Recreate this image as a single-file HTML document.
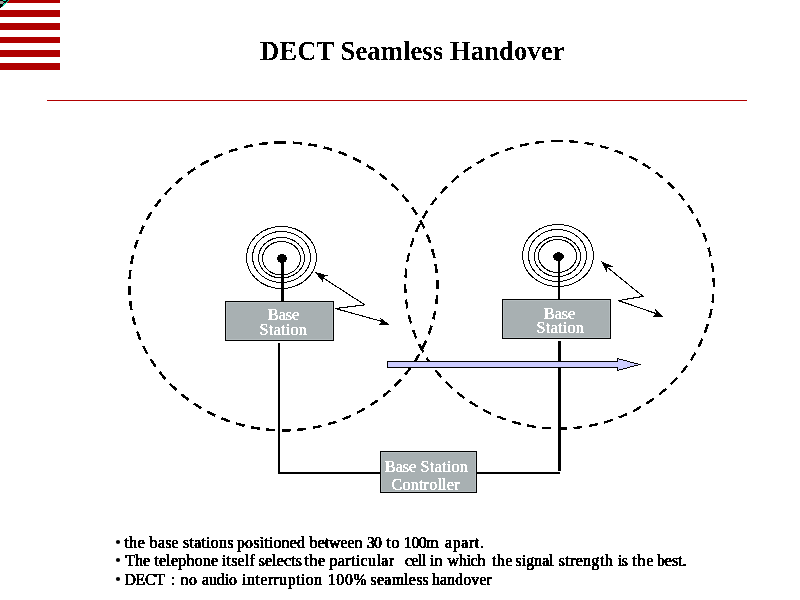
<!DOCTYPE html>
<html>
<head>
<meta charset="utf-8">
<style>
html,body{margin:0;padding:0;background:#fff;}
body{width:800px;height:600px;overflow:hidden;position:relative;font-family:"Liberation Serif",serif;}
svg{position:absolute;left:0;top:0;will-change:transform;}
.ce{shape-rendering:crispEdges;}
</style>
</head>
<body>
<svg width="800" height="600" viewBox="0 0 800 600">
  <defs>
    <filter id="crisp" x="0" y="0" width="100%" height="100%" filterUnits="userSpaceOnUse"><feComponentTransfer><feFuncA type="discrete" tableValues="0 1"/></feComponentTransfer></filter>
  </defs>
  <!-- flag stripes -->
  <g fill="#b00000" shape-rendering="crispEdges">
    <rect x="0" y="0" width="60" height="3"/>
    <rect x="0" y="10" width="60" height="7"/>
    <rect x="0" y="23" width="60" height="7"/>
    <rect x="0" y="37" width="60" height="6"/>
    <rect x="0" y="50" width="60" height="7"/>
    <rect x="0" y="63" width="60" height="7"/>
  </g>
  <!-- corner glyph -->
  <g class="ce">
    <rect x="0" y="0" width="3" height="1" fill="#000"/>
    <rect x="3" y="0" width="3" height="1" fill="#14e6b0"/>
    <rect x="6" y="0" width="2" height="1" fill="#000"/>
    <rect x="8" y="0" width="1" height="1" fill="#14e6b0"/>
    <rect x="0" y="1" width="3" height="1" fill="#9c9c9c"/>
    <rect x="3" y="1" width="4" height="1" fill="#000"/>
    <rect x="7" y="1" width="1" height="1" fill="#14e6b0"/>
    <rect x="0" y="2" width="4" height="1" fill="#9c9c9c"/>
    <rect x="4" y="2" width="2" height="1" fill="#000"/>
    <rect x="6" y="2" width="1" height="1" fill="#14e6b0"/>
    <rect x="0" y="3" width="3" height="1" fill="#9c9c9c"/>
    <rect x="3" y="3" width="1" height="1" fill="#000"/>
    <rect x="4" y="3" width="2" height="1" fill="#14e6b0"/>
    <rect x="0" y="4" width="3" height="1" fill="#000"/>
    <rect x="3" y="4" width="2" height="1" fill="#14e6b0"/>
    <rect x="0" y="5" width="3" height="1" fill="#000"/>
    <rect x="3" y="5" width="1" height="1" fill="#14e6b0"/>
    <rect x="0" y="6" width="2" height="1" fill="#000"/>
    <rect x="2" y="6" width="1" height="1" fill="#14e6b0"/>
    <rect x="0" y="7" width="1" height="1" fill="#000"/>
  </g>

  <!-- title -->
  <text x="260" y="60" font-family="Liberation Serif" font-weight="bold" font-size="26.67" fill="#000" textLength="304.4" lengthAdjust="spacing" filter="url(#crisp)">DECT Seamless Handover</text>
  <!-- red rule -->
  <rect x="47" y="100" width="700" height="1" fill="#b00000" shape-rendering="crispEdges"/>

  <!-- dashed coverage ellipses -->
  <path id="c1" class="ce" d="M283.4,142.39999999999998 A154,144 0 0 0 283.4,430.4 A154,144 0 0 0 283.4,142.39999999999998" fill="none" stroke="#000" stroke-width="2.5" stroke-dasharray="9 6.55"/>
  <path id="c2" class="ce" d="M559.5,141.0 A154.2,143.8 0 0 0 559.5,428.6 A154.2,143.8 0 0 0 559.5,141.0" fill="none" stroke="#000" stroke-width="2.3" stroke-dasharray="9 6.55"/>

  <!-- left antenna -->
  <g fill="none" stroke="#000" stroke-width="1" class="ce">
    <ellipse cx="281.5" cy="257.5" rx="35" ry="31"/>
    <ellipse cx="281.5" cy="257" rx="29" ry="25.5"/>
    <ellipse cx="281.5" cy="257.75" rx="23" ry="20.25"/>
    <ellipse cx="281.5" cy="258.25" rx="19" ry="16.75"/>
  </g>
  <rect x="281" y="258" width="3" height="43" fill="#000" class="ce"/>
  <ellipse cx="282" cy="258.5" rx="5" ry="4.5" fill="#000" class="ce"/>

  <!-- right antenna -->
  <g fill="none" stroke="#000" stroke-width="1" class="ce">
    <ellipse cx="558" cy="255.5" rx="35.5" ry="31"/>
    <ellipse cx="557.5" cy="255.5" rx="29" ry="26"/>
    <ellipse cx="557.5" cy="256.5" rx="23" ry="20"/>
    <ellipse cx="557.5" cy="256" rx="19" ry="16.5"/>
  </g>
  <rect x="558" y="256" width="2" height="43" fill="#000" class="ce"/>
  <ellipse cx="558.5" cy="256.6" rx="5.5" ry="4.3" fill="#000" class="ce"/>

  <!-- boxes -->
  <rect x="225.5" y="301.5" width="108" height="39" fill="#a8b0b2" stroke="#000" stroke-width="1" class="ce"/>
  <rect x="502.5" y="299.5" width="108" height="39" fill="#a8b0b2" stroke="#000" stroke-width="1" class="ce"/>
  <rect x="380.5" y="451.5" width="96" height="41" fill="#a8b0b2" stroke="#000" stroke-width="1" class="ce"/>
  <g fill="none" stroke="#b6bec0" stroke-width="1" class="ce">
    <rect x="226.5" y="302.5" width="106" height="37"/>
    <rect x="503.5" y="300.5" width="106" height="37"/>
    <rect x="381.5" y="452.5" width="94" height="39"/>
  </g>

  <!-- box texts -->
  <g font-family="Liberation Serif" font-size="16" fill="#fff" stroke="#fff" stroke-width="0.35" filter="url(#crisp)">
    <text x="268" y="320">Base</text>
    <text x="259.5" y="335" textLength="47.3" lengthAdjust="spacing">Station</text>
    <text x="544" y="319">Base</text>
    <text x="536.5" y="333" textLength="47.3" lengthAdjust="spacing">Station</text>
    <text x="385" y="472">Base</text><text x="420.5" y="472" textLength="47.3" lengthAdjust="spacing">Station</text>
    <text x="391.5" y="490" textLength="68" lengthAdjust="spacing">Controller</text>
  </g>

  <!-- wiring -->
  <g fill="#000" shape-rendering="crispEdges">
    <rect x="278" y="343" width="2" height="131"/>
    <rect x="278" y="472" width="102" height="2"/>
    <rect x="477" y="472" width="83" height="2"/>
    <rect x="558" y="341" width="3" height="130"/>
  </g>

  <!-- zigzag arrows -->
  <g stroke="#000" stroke-width="1.1" fill="none" class="ce">
    <polyline points="322.5,277.5 364.8,304.8 335.3,308.5 381.5,321.3"/>
    <polyline points="607.5,267.5 643,296.4 618.5,300.6 656,313.5"/>
  </g>
  <g fill="#000" class="ce">
    <polygon points="315,272 328,275.5 322.5,277.5 322.7,282"/>
    <polygon points="390,325 379.5,317 381.5,321.5 378,325"/>
    <polygon points="601,261 613,266.5 607.5,267.5 606.5,272"/>
    <polygon points="664,317 655.2,309 656,313.5 653,317"/>
  </g>

  <!-- big handover arrow -->
  <polygon class="ce" points="387.5,361.5 617.5,361.5 617.5,358.5 639.5,364.5 617.5,370.5 617.5,367.5 387.5,367.5" fill="#ccccff" stroke="#000" stroke-width="1"/>

  <!-- bullets -->
  <g fill="#000">
    <circle cx="118" cy="542" r="2.1"/>
    <circle cx="118" cy="560" r="2.1"/>
    <circle cx="118" cy="579" r="2.1"/>
  </g>
  <g font-family="Liberation Serif" font-size="15.8" fill="#000" stroke="#000" stroke-width="0.7" filter="url(#crisp)">
    <text x="124.4" y="548" textLength="20.31" lengthAdjust="spacing">the</text>
    <text x="149.75" y="548" textLength="28.78" lengthAdjust="spacing">base</text>
    <text x="183.1" y="548" textLength="50.28" lengthAdjust="spacing">stations</text>
    <text x="236.9" y="548" textLength="68.03" lengthAdjust="spacing">positioned</text>
    <text x="309.75" y="548" textLength="52.64" lengthAdjust="spacing">between</text>
    <text x="366.9" y="548" textLength="15.0" lengthAdjust="spacing">30</text>
    <text x="386.5" y="548" textLength="12.8" lengthAdjust="spacing">to</text>
    <text x="404.0" y="548" textLength="34.48" lengthAdjust="spacing">100m</text>
    <text x="445.0" y="548" textLength="38.73" lengthAdjust="spacing">apart.</text>
    <text x="125.6" y="566" textLength="24.36" lengthAdjust="spacing">The</text>
    <text x="154.4" y="566" textLength="63.61" lengthAdjust="spacing">telephone</text>
    <text x="221.9" y="566" textLength="32.79" lengthAdjust="spacing">itself</text>
    <text x="258.75" y="566" textLength="43.11" lengthAdjust="spacing">selects</text>
    <text x="304.4" y="566" textLength="20.51" lengthAdjust="spacing">the</text>
    <text x="329.4" y="566" textLength="64.53" lengthAdjust="spacing">particular</text>
    <text x="405.0" y="566" textLength="21.01" lengthAdjust="spacing">cell</text>
    <text x="430.0" y="566" textLength="12.3" lengthAdjust="spacing">in</text>
    <text x="447.5" y="566" textLength="37.81" lengthAdjust="spacing">which</text>
    <text x="491.9" y="566" textLength="20.31" lengthAdjust="spacing">the</text>
    <text x="515.6" y="566" textLength="38.03" lengthAdjust="spacing">signal</text>
    <text x="558.75" y="566" textLength="53.91" lengthAdjust="spacing">strength</text>
    <text x="617.75" y="566" textLength="10.25" lengthAdjust="spacing">is</text>
    <text x="632.25" y="566" textLength="21.01" lengthAdjust="spacing">the</text>
    <text x="656.9" y="566" textLength="29.61" lengthAdjust="spacing">best.</text>
    <text x="124.4" y="585" textLength="40.65" lengthAdjust="spacing">DECT</text>
    <text x="170.9" y="585">:</text>
    <text x="180.6" y="585" textLength="16.4" lengthAdjust="spacing">no</text>
    <text x="201.9" y="585" textLength="35.11" lengthAdjust="spacing">audio</text>
    <text x="242.25" y="585" textLength="79.89" lengthAdjust="spacing">interruption</text>
    <text x="327.75" y="585" textLength="38.86" lengthAdjust="spacing">100%</text>
    <text x="370.6" y="585" textLength="58.16" lengthAdjust="spacing">seamless</text>
    <text x="431.9" y="585" textLength="59.98" lengthAdjust="spacing">handover</text>
  </g>
</svg>
</body>
</html>
